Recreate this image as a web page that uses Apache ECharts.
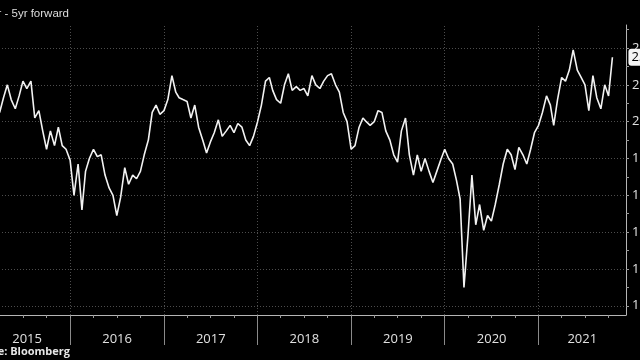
<!DOCTYPE html>
<html>
<head>
<meta charset="utf-8">
<script src="https://cdn.jsdelivr.net/npm/echarts@6/dist/echarts.min.js"></script>
<style>
html,body{margin:0;padding:0;background:#000;overflow:hidden;width:640px;height:360px;}
#c{position:absolute;left:-60px;top:0;width:700px;height:360px;}
</style>
</head>
<body>
<div id="c"></div>
<script>
// ---- data ----
const titleText = 'US 5yr - 5yr forward';
const sourceText = 'Source: Bloomberg';
const seriesStart = [2015, 1]; // year, month index (Feb 2015), half-monthly observations
const values = [
2.09,2.05,2.12,2.07,2.05,2.13,2.20,2.12,2.07,2.14,
2.22,2.18,2.22,2.02,2.06,1.95,1.85,1.95,1.87,1.97,
1.87,1.85,1.79,1.60,1.77,1.52,1.73,1.80,1.85,1.81,
1.82,1.71,1.64,1.60,1.49,1.59,1.75,1.66,1.71,1.69,
1.73,1.82,1.90,2.05,2.09,2.04,2.06,2.12,2.25,2.16,
2.13,2.12,2.11,2.02,2.09,1.97,1.90,1.83,1.89,1.94,
2.01,1.92,1.95,1.98,1.94,1.99,1.97,1.90,1.87,1.92,
2.00,2.09,2.22,2.24,2.17,2.12,2.10,2.20,2.26,2.17,
2.19,2.17,2.18,2.14,2.25,2.20,2.18,2.22,2.25,2.26,
2.20,2.16,2.05,2.00,1.85,1.87,1.97,2.02,2.00,1.98,
2.00,2.06,2.05,1.95,1.90,1.82,1.78,1.95,2.02,1.82,
1.71,1.82,1.73,1.80,1.73,1.67,1.73,1.79,1.85,1.80,
1.77,1.68,1.58,1.10,1.39,1.71,1.44,1.55,1.41,1.49,
1.46,1.55,1.66,1.77,1.85,1.82,1.74,1.86,1.82,1.77,
1.85,1.94,1.98,2.05,2.14,2.09,1.98,2.12,2.24,2.22,
2.28,2.39,2.28,2.24,2.20,2.06,2.25,2.13,2.07,2.20,
2.14,2.35
];
const axisStart = '2015-01-30';
const axisEnd = '2021-12-08';
const yearLabels = [2015, 2016, 2017, 2018, 2019, 2020, 2021];
const yearBoundaries = [2016, 2017, 2018, 2019, 2020, 2021];
const yMin = 0.95, yMax = 2.525;
const yGridValues = [1.0, 1.2, 1.4, 1.6, 1.8, 2.0, 2.2, 2.4];
const yTickValues = [1.0, 1.1, 1.2, 1.3, 1.4, 1.5, 1.6, 1.7, 1.8, 1.9, 2.0, 2.1, 2.2, 2.3, 2.4, 2.5];

// ---- build ----
const xMin = Date.parse(axisStart), xMax = Date.parse(axisEnd);
const seriesData = values.map((v, i) => [
  Date.UTC(seriesStart[0], seriesStart[1] + Math.floor(i / 2), i % 2 ? 16 : 1), v
]);
const yearTickTs = yearBoundaries.map(y => Date.UTC(y, 0, 1));
const yearLabelTs = yearLabels.map(y => (Math.max(Date.UTC(y, 0, 1), xMin) + Math.min(Date.UTC(y + 1, 0, 1), xMax)) / 2);
const quarterTs = [];
for (let y = 2015; y <= 2021; y++) for (let q = 0; q < 4; q++) {
  const t = Date.UTC(y, q * 3, 1);
  if (t >= xMin && t <= xMax) quarterTs.push(t);
}

const gridRect = { left: 44, right: 14, top: 25, bottom: 45, containLabel: false, outerBoundsMode: 'none' };
const dotted = { color: '#4d4d4d', type: [1, 2], width: 1 };

const chart = echarts.init(document.getElementById('c'), null, { renderer: 'canvas' });
chart.setOption({
  backgroundColor: '#000',
  animation: false,
  title: [
    { text: titleText, right: 571, top: 8, padding: 0,
      textStyle: { color: '#dcdcdc', fontSize: 11.5, fontWeight: 'normal', fontFamily: 'Liberation Sans' } },
    { text: sourceText, right: 570, top: 346, padding: 0,
      textStyle: { color: '#e6e6e6', fontSize: 11, fontWeight: 'bold', fontFamily: 'Open Sans' } }
  ],
  grid: [
    Object.assign({}, gridRect),
    Object.assign({}, gridRect)
  ],
  xAxis: [
    { type: 'value', gridIndex: 0, min: xMin, max: xMax, position: 'bottom',
      axisLine: { show: true, lineStyle: { color: '#b5b5b5', width: 1 } },
      axisTick: { show: true, customValues: yearTickTs, length: 30, lineStyle: { color: '#8a8a8a' } },
      axisLabel: { show: true, customValues: yearLabelTs, margin: 18,
        formatter: v => String(new Date(v).getUTCFullYear()),
        color: '#e0e0e0', fontSize: 13, fontFamily: 'Open Sans' },
      splitLine: { show: false } },
    { type: 'value', gridIndex: 1, min: xMin, max: xMax, position: 'bottom',
      axisLine: { show: false },
      axisTick: { show: true, customValues: quarterTs, length: 3, lineStyle: { color: '#9a9a9a' } },
      axisLabel: { show: false },
      splitLine: { show: false } }
  ],
  yAxis: [
    { type: 'value', gridIndex: 0, min: yMin, max: yMax, position: 'right',
      axisLine: { show: true, lineStyle: { color: '#b5b5b5', width: 1 } },
      axisTick: { show: true, customValues: yTickValues, length: 3, lineStyle: { color: '#9a9a9a' } },
      axisLabel: { show: true, customValues: yGridValues, margin: 6,
        formatter: v => v.toFixed(1), color: '#e0e0e0', fontSize: 13, fontFamily: 'Open Sans' },
      splitLine: { show: false } },
    { type: 'value', gridIndex: 1, min: yMin, max: yMax, show: false }
  ],
  series: [{
    type: 'line',
    xAxisIndex: 0, yAxisIndex: 0,
    data: seriesData,
    showSymbol: false,
    symbol: 'none',
    z: 3,
    lineStyle: { color: '#f2f2f2', width: 1.6 },
    endLabel: { show: true, distance: 16, formatter: p => p.value[1].toFixed(2),
      backgroundColor: '#f5f5f5', color: '#000', borderRadius: 3, padding: [2, 3],
      fontSize: 13, fontFamily: 'Open Sans' },
    markLine: {
      silent: true, symbol: 'none', z: 1,
      label: { show: false },
      lineStyle: dotted,
      data: yGridValues.map(v => ({ yAxis: v })).concat(yearTickTs.map(t => ({ xAxis: t })))
    }
  }]
});
</script>
</body>
</html>
